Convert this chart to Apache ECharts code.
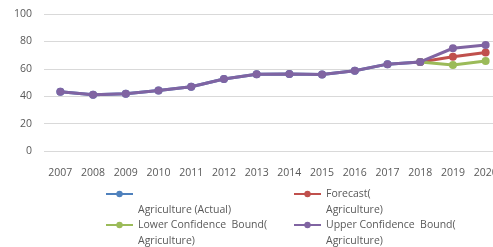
<!DOCTYPE html>
<html><head><meta charset="utf-8">
<script src="https://cdn.jsdelivr.net/npm/echarts@6/dist/echarts.min.js"></script>
<style>html,body{margin:0;padding:0;background:#fff;overflow:hidden}#c{width:493px;height:247px}</style>
</head><body><div id="c"></div>
<script>
const years = ['2007','2008','2009','2010','2011','2012','2013','2014','2015','2016','2017','2018','2019','2020'];
const actual = [43.3,41.1,41.8,44.2,46.9,52.5,56.0,56.2,55.8,58.6,63.4,65.0,null,null];
const forecast = [null,null,null,null,null,null,null,null,null,null,null,65.0,68.8,71.9];
const lowerBound = [null,null,null,null,null,null,null,null,null,null,null,65.0,62.8,65.7];
const upperBound = [43.3,41.1,41.8,44.2,46.9,52.5,56.0,56.2,55.8,58.6,63.4,65.0,75.0,77.4];
const yTicks = [0,20,40,60,80,100];
const names = ['\nAgriculture (Actual)','Forecast(\nAgriculture)','Lower Confidence  Bound(\nAgriculture)','Upper Confidence  Bound(\nAgriculture)'];
const colors = ['#4f81bd','#c0504d','#9bbb59','#8064a2'];
const font = 'Open Sans';
const txt = {color:'#595959', fontFamily:font, fontSize:10.5, lineHeight:16};
function lg(i, left, top){
  return {data:[names[i]], left:left, top:top, itemWidth:27, itemHeight:8, itemGap:0, padding:0,
    textStyle:txt, selectedMode:false, formatter: n => '\n' + n};
}
const chart = echarts.init(document.getElementById('c'));
const datas = [actual, forecast, lowerBound, upperBound];
chart.setOption({
  animation:false,
  color: colors,
  grid:{left:44, top:14, height:137, width:458, outerBoundsMode:'none', containLabel:false},
  legend:[lg(0,105,170), lg(1,293,170), lg(2,105,201), lg(3,293,201)],
  xAxis:{type:'category', data:years, axisLine:{show:false}, axisTick:{show:false},
    axisLabel:{color:'#595959', fontFamily:font, fontSize:10.5, margin:17, interval:0}},
  yAxis:{type:'value', min:yTicks[0], max:yTicks[yTicks.length-1], interval:20,
    axisLabel:{color:'#595959', fontFamily:font, fontSize:10.5, margin:12},
    splitLine:{lineStyle:{color:'#d9d9d9', width:1}}},
  series: datas.map((d,i)=>({name:names[i], type:'line', data:d, symbol:'circle', symbolSize:8,
    lineStyle:{width:3, color:colors[i]}, itemStyle:{color:colors[i]}, z:2+i}))
});
</script></body></html>
